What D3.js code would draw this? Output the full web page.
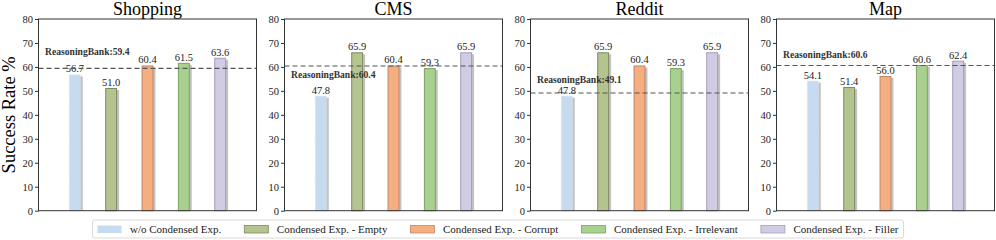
<!DOCTYPE html>
<html>
<head>
<meta charset="utf-8">
<script src="https://cdn.jsdelivr.net/npm/d3@7"></script>
<style>
  body { margin: 0; background: #fff; }
  svg { display: block; }
</style>
</head>
<body>
<div id="chart"></div>
<script>
// data
var panels = ['Shopping', 'CMS', 'Reddit', 'Map'];
var variants = ['w/o Condensed Exp.', 'Condensed Exp. - Empty', 'Condensed Exp. - Corrupt',
    'Condensed Exp. - Irrelevant', 'Condensed Exp. - Filler'];
var shopping = [56.7, 51.0, 60.4, 61.5, 63.6];
var cms = [47.8, 65.9, 60.4, 59.3, 65.9];
var reddit = [47.8, 65.9, 60.4, 59.3, 65.9];
var map = [54.1, 51.4, 56.0, 60.6, 62.4];
var reasoningBank = [59.4, 60.4, 49.1, 60.6];
// where the ReasoningBank note sits, in y units
var noteAt = [65.0, 55.3, 53.4, 63.6];
var yTicks = [0, 10, 20, 30, 40, 50, 60, 70, 80];

var series = [shopping, cms, reddit, map];

var fills = ['#c6dbef', '#b4c48e', '#f4ae80', '#a9d08e', '#d1cbe4'];
var edges = ['#d6e2f0', '#7d8a62', '#c0876a', '#7ca263', '#a39db8'];

var W = 996, H = 240;
var serif = '"Liberation Serif", "Times New Roman", serif';

var svg = d3.select('#chart').append('svg')
    .attr('width', W)
    .attr('height', H)
    .style('font-family', serif);

var panelW = 218, step = 246, left0 = 38.5;
var plotTop = 19, plotBottom = 210.7;

var y = d3.scaleLinear().domain([0, 80]).range([plotBottom, plotTop]);

panels.forEach(function(name, p) {
    var x0 = left0 + p * step;
    var x = d3.scaleLinear().domain([-1, 5]).range([x0, x0 + panelW]);
    var barW = x(0.3) - x(0);
    var g = svg.append('g');

    // title
    g.append('text')
        .attr('x', x0 + panelW / 2)
        .attr('y', 14.5)
        .attr('text-anchor', 'middle')
        .style('font-size', '18px')
        .text(name);

    // y axis
    var axis = g.append('g')
        .attr('transform', 'translate(' + x0 + ',0)')
        .call(d3.axisLeft(y).tickValues(yTicks).tickSize(3.5).tickPadding(2));
    axis.select('.domain').remove();
    axis.selectAll('line').attr('stroke', '#333');
    axis.selectAll('text')
        .style('font-family', serif)
        .style('font-size', '10.5px')
        .attr('fill', '#222');

    var vals = series[p];

    // shadows
    g.selectAll('.shadow')
        .data(vals)
        .enter()
        .append('rect')
        .attr('x', function(d, i) { return x(i) - barW / 2 + 2.5; })
        .attr('y', function(d) { return y(d) + 1.5; })
        .attr('width', barW)
        .attr('height', function(d) { return plotBottom - y(d) - 1.5; })
        .attr('fill', '#888')
        .attr('opacity', 0.5);

    // bars
    g.selectAll('.bar')
        .data(vals)
        .enter()
        .append('rect')
        .attr('x', function(d, i) { return x(i) - barW / 2; })
        .attr('y', function(d) { return y(d); })
        .attr('width', barW)
        .attr('height', function(d) { return plotBottom - y(d); })
        .attr('fill', function(d, i) { return fills[i]; })
        .attr('stroke', function(d, i) { return edges[i]; })
        .attr('stroke-width', 1)
        .attr('stroke-dasharray', function(d, i) { return i === 0 ? '1.5,1' : null; });

    // value labels
    g.selectAll('.val')
        .data(vals)
        .enter()
        .append('text')
        .attr('x', function(d, i) { return x(i); })
        .attr('y', function(d) { return y(d) - 2.5; })
        .attr('text-anchor', 'middle')
        .style('font-size', '10.5px')
        .attr('fill', '#222')
        .text(function(d) { return d.toFixed(1); });

    // ReasoningBank reference line
    g.append('line')
        .attr('x1', x0)
        .attr('x2', x0 + panelW)
        .attr('y1', y(reasoningBank[p]))
        .attr('y2', y(reasoningBank[p]))
        .attr('stroke', '#555')
        .attr('stroke-width', 1.1)
        .attr('stroke-dasharray', '5,3');

    g.append('text')
        .attr('x', x(-0.82))
        .attr('y', y(noteAt[p]))
        .style('font-size', '9.6px')
        .style('font-weight', 'bold')
        .attr('fill', '#333')
        .text('ReasoningBank:' + reasoningBank[p].toFixed(1));

    // frame
    g.append('rect')
        .attr('x', x0)
        .attr('y', plotTop)
        .attr('width', panelW)
        .attr('height', plotBottom - plotTop)
        .attr('fill', 'none')
        .attr('stroke', '#333')
        .attr('stroke-width', 1);
});

// y label
svg.append('text')
    .attr('transform', 'translate(15,' + (plotTop + plotBottom) / 2 + ') rotate(-90)')
    .attr('text-anchor', 'middle')
    .style('font-size', '18.5px')
    .text('Success Rate %');

// legend
var legend = svg.append('g');
var box = legend.append('rect')
    .attr('y', 220)
    .attr('height', 18)
    .attr('rx', 2)
    .attr('fill', '#fff')
    .attr('stroke', '#d0d0d0')
    .attr('stroke-width', 0.8);

var cx = 0;
var items = [];
variants.forEach(function(v, i) {
    var it = legend.append('g');
    it.append('rect')
        .attr('x', 0)
        .attr('y', 225.5)
        .attr('width', 24)
        .attr('height', 7.5)
        .attr('fill', fills[i])
        .attr('stroke', i === 0 ? 'none' : edges[i])
        .attr('stroke-width', 0.8);
    var t = it.append('text')
        .attr('x', 32.5)
        .attr('y', 233)
        .style('font-size', '11px')
        .attr('fill', '#222')
        .text(v);
    var w = 32.5 + t.node().getComputedTextLength();
    items.push({ g: it, x: cx });
    cx += w + 23;
});
var total = cx - 23;
var lx = W / 2 - total / 2;
items.forEach(function(d) {
    d.g.attr('transform', 'translate(' + (lx + d.x) + ',0)');
});
box.attr('x', lx - 5).attr('width', total + 10);
</script>
</body>
</html>
